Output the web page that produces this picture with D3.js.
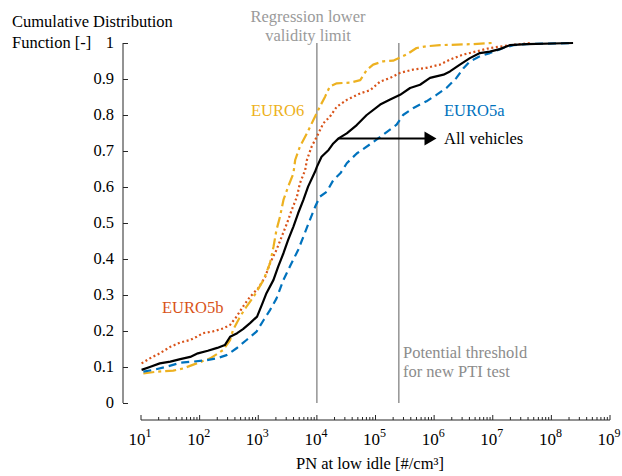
<!DOCTYPE html>
<html>
<head>
<meta charset="utf-8">
<script src="https://cdn.jsdelivr.net/npm/d3@7"></script>
<style>
  html, body { margin: 0; padding: 0; background: #fff; }
</style>
</head>
<body>
<svg id="chart" width="622" height="476" font-family="'Liberation Serif', Tinos, 'Times New Roman', 'DejaVu Serif', serif"></svg>
<script>
// Cumulative distributions of PN at low idle, per vehicle group.
// Each point: [log10(PN in #/cm3), cumulative fraction]
const allVehicles = [
  [1.01,0.092],[1.15,0.100],[1.32,0.110],[1.50,0.115],[1.67,0.122],[1.84,0.128],[1.97,0.138],
  [2.14,0.145],[2.30,0.153],[2.43,0.161],[2.52,0.184],[2.64,0.194],[2.74,0.205],[2.86,0.222],
  [2.98,0.240],[3.08,0.280],[3.14,0.305],[3.26,0.342],[3.34,0.379],[3.43,0.416],[3.51,0.453],
  [3.60,0.490],[3.68,0.527],[3.77,0.564],[3.85,0.601],[3.97,0.643],[4.00,0.656],[4.08,0.684],
  [4.20,0.703],[4.28,0.721],[4.37,0.735],[4.51,0.749],[4.68,0.772],[4.85,0.800],[5.08,0.829],
  [5.25,0.843],[5.42,0.856],[5.59,0.875],[5.76,0.884],[5.93,0.903],[6.16,0.912],[6.27,0.921],
  [6.44,0.940],[6.61,0.958],[6.78,0.972],[6.95,0.976],[7.12,0.983],[7.29,0.994],[7.58,0.997],
  [8.37,1.000]
];
const euro5b = [
  [1.01,0.110],[1.15,0.124],[1.32,0.138],[1.50,0.156],[1.67,0.168],[1.84,0.175],[1.95,0.184],
  [2.06,0.194],[2.23,0.199],[2.40,0.207],[2.52,0.217],[2.63,0.240],[2.74,0.268],[2.86,0.295],
  [3.00,0.319],[3.12,0.351],[3.20,0.388],[3.31,0.425],[3.40,0.462],[3.49,0.499],[3.57,0.536],
  [3.66,0.573],[3.71,0.610],[3.80,0.647],[3.83,0.675],[3.91,0.712],[4.00,0.740],[4.11,0.777],
  [4.22,0.795],[4.34,0.823],[4.51,0.842],[4.74,0.860],[4.91,0.869],[5.08,0.893],[5.25,0.903],
  [5.42,0.917],[5.64,0.926],[5.87,0.931],[6.10,0.940],[6.27,0.954],[6.50,0.968],[6.73,0.977],
  [6.95,0.986],[7.29,0.994],[7.64,1.000]
];
const euro6 = [
  [1.04,0.082],[1.27,0.087],[1.55,0.090],[1.72,0.096],[1.95,0.110],[2.18,0.124],[2.40,0.147],
  [2.52,0.175],[2.57,0.203],[2.69,0.240],[2.80,0.268],[2.92,0.295],[3.09,0.342],[3.20,0.388],
  [3.26,0.434],[3.31,0.480],[3.37,0.517],[3.43,0.564],[3.51,0.601],[3.60,0.638],[3.63,0.675],
  [3.71,0.712],[3.83,0.749],[3.94,0.786],[4.05,0.823],[4.14,0.851],[4.22,0.879],[4.34,0.888],
  [4.57,0.890],[4.74,0.897],[4.85,0.925],[4.96,0.940],[5.13,0.949],[5.30,0.951],[5.53,0.968],
  [5.70,0.986],[5.87,0.991],[6.10,0.994],[6.67,0.997],[6.98,1.000]
];
const euro5a = [
  [1.04,0.087],[1.21,0.092],[1.44,0.101],[1.67,0.112],[1.89,0.115],[2.12,0.119],[2.29,0.124],
  [2.46,0.133],[2.63,0.152],[2.80,0.175],[2.97,0.198],[3.09,0.230],[3.20,0.258],[3.31,0.290],
  [3.43,0.342],[3.54,0.379],[3.68,0.425],[3.77,0.462],[3.88,0.508],[3.97,0.545],[4.05,0.573],
  [4.17,0.587],[4.28,0.619],[4.40,0.638],[4.51,0.666],[4.68,0.693],[4.91,0.719],[5.13,0.745],
  [5.36,0.773],[5.47,0.800],[5.64,0.819],[5.87,0.838],[6.04,0.856],[6.21,0.875],[6.38,0.903],
  [6.50,0.930],[6.61,0.949],[6.78,0.963],[6.95,0.972],[7.18,0.986],[7.35,0.994],[7.58,0.997],
  [8.37,1.000]
];

const xDecades = [1, 2, 3, 4, 5, 6, 7, 8, 9];
const yTicks = [0, 0.1, 0.2, 0.3, 0.4, 0.5, 0.6, 0.7, 0.8, 0.9, 1];
const limitLines = [1e4, 2.5e5];   // regression validity limit, PTI threshold

const series = [
  { name: "EURO5b", data: euro5b, color: "#D95319", dash: "2,2.6", width: 2.2 },
  { name: "EURO6", data: euro6, color: "#EDB120", dash: "11,4,3,4", width: 2.2 },
  { name: "EURO5a", data: euro5a, color: "#0072BD", dash: "8,5", width: 2.2 },
  { name: "All vehicles", data: allVehicles, color: "#000000", dash: null, width: 2.2 }
];

const svg = d3.select("#chart");
const x = d3.scaleLog().domain([1e1, 1e9]).range([141, 610]);
const y = d3.scaleLinear().domain([0, 1]).range([403, 43]);
const xAxisY = 420;
const axisColor = "#262626";
const fs = 16.5;

// Vertical reference lines
svg.selectAll("line.limit").data(limitLines).enter().append("line")
  .attr("class", "limit")
  .attr("x1", d => x(d)).attr("x2", d => x(d))
  .attr("y1", y(1)).attr("y2", y(0))
  .attr("stroke", "#8c8c8c").attr("stroke-width", 1.4);

// Y axis (ticks pointing inward)
const yAxis = d3.axisRight(y).tickValues(yTicks).tickSize(5).tickFormat("");
const gy = svg.append("g").attr("transform", "translate(123,0)").call(yAxis);
gy.select(".domain").attr("stroke", axisColor).attr("d", `M0,${y(1)}V${y(0)}`);
gy.selectAll(".tick line").attr("stroke", axisColor);
svg.selectAll("text.ylab").data(yTicks).enter().append("text")
  .attr("class", "ylab")
  .attr("x", 114).attr("y", d => y(d) + 5)
  .attr("text-anchor", "end")
  .attr("font-size", fs).attr("fill", "#000")
  .text(d => d === 0 ? "0" : d === 1 ? "1" : d3.format(".1f")(d));

// X axis, detached below the plot, ticks pointing up
const gx = svg.append("g").attr("transform", `translate(0,${xAxisY})`);
gx.append("line").attr("x1", x(1e1)).attr("x2", x(1e9))
  .attr("stroke", axisColor).attr("stroke-width", 1);
const minorTicks = [];
xDecades.slice(0, -1).forEach(e => { for (let m = 2; m <= 9; m++) minorTicks.push(m * Math.pow(10, e)); });
gx.selectAll("line.minor").data(minorTicks).enter().append("line")
  .attr("class", "minor")
  .attr("x1", d => x(d)).attr("x2", d => x(d)).attr("y1", 0).attr("y2", -3)
  .attr("stroke", axisColor);
gx.selectAll("line.major").data(xDecades).enter().append("line")
  .attr("class", "major")
  .attr("x1", d => x(Math.pow(10, d))).attr("x2", d => x(Math.pow(10, d)))
  .attr("y1", 0).attr("y2", -5)
  .attr("stroke", axisColor);
const xl = svg.selectAll("text.xlab").data(xDecades).enter().append("text")
  .attr("class", "xlab")
  .attr("x", d => x(Math.pow(10, d)) - 1)
  .attr("y", 445)
  .attr("text-anchor", "middle")
  .attr("font-size", 17).attr("fill", "#000");
xl.append("tspan").text("10");
xl.append("tspan").attr("dy", -8).attr("font-size", 12).text(d => d);

svg.append("text").attr("x", 370).attr("y", 469)
  .attr("text-anchor", "middle").attr("font-size", fs)
  .text("PN at low idle [#/cm³]");

// Y title
const yt = svg.append("text").attr("x", 12).attr("y", 27).attr("font-size", fs);
yt.append("tspan").attr("x", 12).text("Cumulative Distribution");
yt.append("tspan").attr("x", 12).attr("dy", 20.5).text("Function [-]");

// CDF curves
const line = d3.line()
  .x(d => x(Math.pow(10, d[0])))
  .y(d => y(d[1]));
svg.selectAll("path.cdf").data(series).enter().append("path")
  .attr("class", "cdf")
  .attr("d", d => line(d.data))
  .attr("fill", "none")
  .attr("stroke", d => d.color)
  .attr("stroke-width", d => d.width)
  .attr("stroke-dasharray", d => d.dash)
  .attr("stroke-linejoin", "round");

// Annotations
const gray = "#9a9a9a";
const reg = svg.append("text").attr("font-size", fs).attr("fill", gray).attr("text-anchor", "middle");
reg.append("tspan").attr("x", 308).attr("y", 22).text("Regression lower");
reg.append("tspan").attr("x", 308).attr("y", 41).text("validity limit");

const pti = svg.append("text").attr("font-size", fs).attr("fill", "#8c8c8c");
pti.append("tspan").attr("x", 403).attr("y", 358).text("Potential threshold");
pti.append("tspan").attr("x", 403).attr("y", 377).text("for new PTI test");

svg.append("text").attr("x", 251).attr("y", 116).attr("font-size", fs)
  .attr("fill", "#EDB120").text("EURO6");
svg.append("text").attr("x", 162).attr("y", 313).attr("font-size", fs)
  .attr("fill", "#D95319").text("EURO5b");
svg.append("text").attr("x", 444).attr("y", 116).attr("font-size", fs)
  .attr("fill", "#0072BD").text("EURO5a");
svg.append("text").attr("x", 444).attr("y", 143.5).attr("font-size", fs)
  .attr("fill", "#000").text("All vehicles");

// Arrow from the "All vehicles" curve to its label
const arrowY = y(0.735);
const arrowStart = x(Math.pow(10, 4.37));
const arrowTip = x(Math.pow(10, 6.04));
svg.append("line")
  .attr("x1", arrowStart).attr("x2", arrowTip - 8)
  .attr("y1", arrowY).attr("y2", arrowY)
  .attr("stroke", "#000").attr("stroke-width", 2);
svg.append("path")
  .attr("d", `M${arrowTip},${arrowY}L${arrowTip - 12},${arrowY - 7}L${arrowTip - 12},${arrowY + 7}Z`)
  .attr("fill", "#000");
</script>
</body>
</html>
